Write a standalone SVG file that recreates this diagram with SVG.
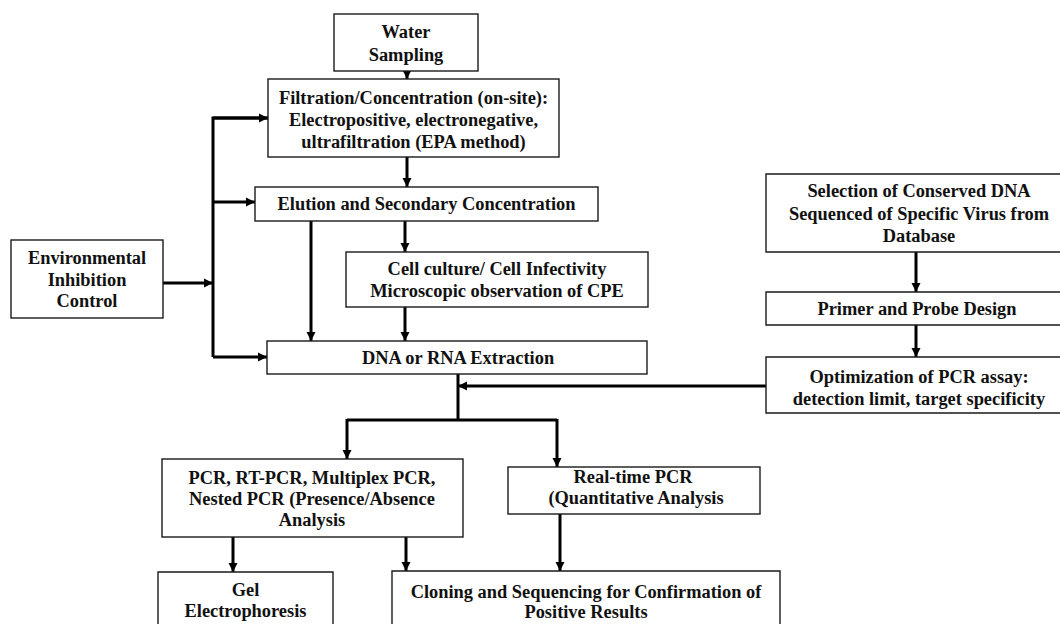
<svg xmlns="http://www.w3.org/2000/svg" width="1060" height="624" viewBox="0 0 1060 624">
<style>
.box{fill:#fff;stroke:#1a1a1a;stroke-width:1.4}
.t{font-family:'Liberation Serif','DejaVu Serif',serif;font-weight:700;font-size:18.4px;fill:#111;text-anchor:middle}
.c{fill:none;stroke:#000;stroke-width:3}
.a{marker-end:url(#ah)}
</style>
<defs>
<marker id="ah" markerUnits="userSpaceOnUse" markerWidth="10" markerHeight="10" refX="9" refY="5" orient="auto">
<path d="M0,0.5 L9,5 L0,9.5 z" fill="#000"/>
</marker>
</defs>
<rect width="1060" height="624" fill="#fff"/>
<g id="connectors">
<line class="c a" x1="407" y1="71" x2="407" y2="79"/>
<line class="c a" x1="407" y1="157" x2="407" y2="187"/>
<polyline class="c" points="268,118 213,118 213,357"/>
<line class="c a" x1="213" y1="118" x2="268" y2="118"/>
<line class="c a" x1="213" y1="202" x2="255" y2="202"/>
<line class="c a" x1="213" y1="357" x2="267" y2="357"/>
<line class="c a" x1="163" y1="283" x2="213" y2="283"/>
<line class="c a" x1="311" y1="221" x2="311" y2="341"/>
<line class="c a" x1="405" y1="221" x2="405" y2="252"/>
<line class="c a" x1="405" y1="307" x2="405" y2="341"/>
<line class="c" x1="458" y1="374" x2="458" y2="421"/>
<polyline class="c" points="347,420 557,420"/>
<line class="c a" x1="347" y1="419" x2="347" y2="459"/>
<line class="c a" x1="557" y1="419" x2="557" y2="467"/>
<line class="c a" x1="766" y1="386" x2="458" y2="386"/>
<line class="c a" x1="916" y1="252" x2="916" y2="292"/>
<line class="c a" x1="916" y1="325" x2="916" y2="357"/>
<line class="c a" x1="233" y1="537" x2="233" y2="572"/>
<line class="c a" x1="406" y1="537" x2="406" y2="571"/>
<line class="c a" x1="560" y1="514" x2="560" y2="571"/>
</g>
<g id="water">
<rect class="box" x="334" y="14" width="144" height="57"/>
<text class="t" x="406" y="38">Water</text>
<text class="t" x="406" y="61">Sampling</text>
</g>
<g id="filtration">
<rect class="box" x="268" y="79" width="291" height="78"/>
<text class="t" x="413.5" y="104">Filtration/Concentration (on-site):</text>
<text class="t" x="413.5" y="126">Electropositive, electronegative,</text>
<text class="t" x="413.5" y="148">ultrafiltration (EPA method)</text>
</g>
<g id="elution">
<rect class="box" x="255" y="187" width="343" height="34"/>
<text class="t" x="426.5" y="210">Elution and Secondary Concentration</text>
</g>
<g id="environmental">
<rect class="box" x="11" y="240" width="152" height="78"/>
<text class="t" x="87" y="264">Environmental</text>
<text class="t" x="87" y="286">Inhibition</text>
<text class="t" x="87" y="307">Control</text>
</g>
<g id="cellculture">
<rect class="box" x="346" y="252" width="302" height="55"/>
<text class="t" x="497" y="275">Cell culture/ Cell Infectivity</text>
<text class="t" x="497" y="297">Microscopic observation of CPE</text>
</g>
<g id="extraction">
<rect class="box" x="267" y="341" width="380" height="33"/>
<text class="t" x="458" y="364">DNA or RNA Extraction</text>
</g>
<g id="selection">
<path class="box" d="M1061,174 H766 V252 H1061"/>
<text class="t" x="919" y="197">Selection of Conserved DNA</text>
<text class="t" x="919" y="220">Sequenced of Specific Virus from</text>
<text class="t" x="919" y="242">Database</text>
</g>
<g id="primer">
<path class="box" d="M1061,292 H766 V325 H1061"/>
<text class="t" x="917" y="315">Primer and Probe Design</text>
</g>
<g id="optimization">
<path class="box" d="M1061,357 H766 V413 H1061"/>
<text class="t" x="919" y="383">Optimization of PCR assay:</text>
<text class="t" x="919" y="405">detection limit, target specificity</text>
</g>
<g id="pcr">
<rect class="box" x="162" y="459" width="301" height="78"/>
<text class="t" x="312" y="484">PCR, RT-PCR, Multiplex PCR,</text>
<text class="t" x="312" y="505">Nested PCR (Presence/Absence</text>
<text class="t" x="312" y="526">Analysis</text>
</g>
<g id="realtime">
<rect class="box" x="508" y="467" width="252" height="47"/>
<text class="t" x="633" y="483">Real-time PCR</text>
<text class="t" x="636" y="504">(Quantitative Analysis</text>
</g>
<g id="gel">
<path class="box" d="M158,625 V572 H333 V625"/>
<text class="t" x="245.5" y="596">Gel</text>
<text class="t" x="245.5" y="617">Electrophoresis</text>
</g>
<g id="cloning">
<path class="box" d="M392,625 V571 H780 V625"/>
<text class="t" x="586" y="598">Cloning and Sequencing for Confirmation of</text>
<text class="t" x="586" y="618">Positive Results</text>
</g>
</svg>
